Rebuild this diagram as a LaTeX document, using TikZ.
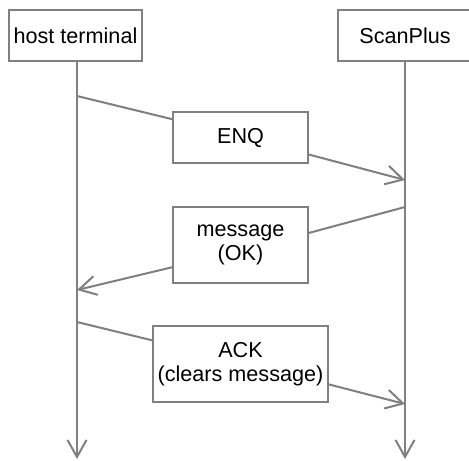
\documentclass[tikz,border=0pt]{standalone}
\usepackage{fontspec}
\setmainfont{Liberation Sans}
\usetikzlibrary{arrows.meta}
\definecolor{msggray}{RGB}{128,128,128}
\begin{document}
\begin{tikzpicture}[x=0.02cm, y=-0.02cm, font=\fontsize{12.3}{13.9}\selectfont,
          >={Straight Barb[length=3.4mm, width=3.8mm]},
          line width=1.15pt,
          box/.style={draw=msggray, line width=1.15pt, align=center, inner sep=0pt, minimum width=2.7cm, minimum height=1.02cm},
          actor/.style={box, minimum width=2.67cm},
          msg/.style={box},
          wide/.style={box, minimum width=3.5cm, minimum height=1.52cm},
          tall/.style={box, minimum height=1.52cm}]
        \useasboundingbox (0,0) rectangle (469,460);
        \node[actor] (host) at (75.5,35.5) {host terminal};
        \node[actor] (scan) at (405,35.5) {ScanPlus};
        \node[msg] (enq) at (240.5,137.5) {ENQ};
        \node[tall] (okmsg) at (240.5,245) {message\\(OK)};
        \node[wide] (ack) at (240.5,364) {ACK\\(clears message)};
        \coordinate (h1) at (77,96);
        \coordinate (h2) at (77,290);
        \coordinate (h3) at (77,322);
        \coordinate (hend) at (77,459);
        \coordinate (s1) at (405,180);
        \coordinate (s2) at (405,207);
        \coordinate (s3) at (405,404);
        \coordinate (send) at (405,459);
        \draw[->, msggray] (host.south -| hend) -- (hend);
        \draw[->, msggray] (scan.south) -- (send);
        \draw[msggray] (h1) -- (enq.165);
        \draw[->, msggray] (enq.-14) -- (s1);
        \draw[msggray] (s2) -- (okmsg.10);
        \draw[->, msggray] (okmsg.198) -- (h2);
        \draw[msggray] (h3) -- (ack.165);
        \draw[->, msggray] (ack.-13.5) -- (s3);
      \end{tikzpicture}
\end{document}
